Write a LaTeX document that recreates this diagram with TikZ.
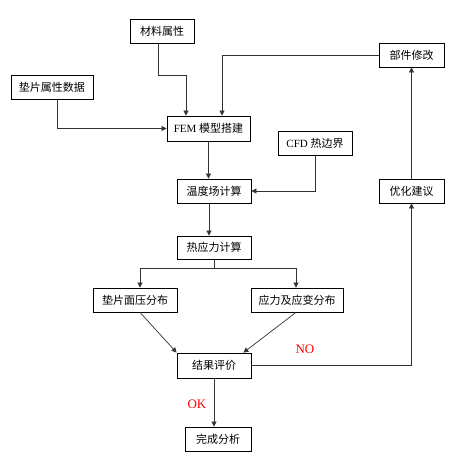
\documentclass[tikz,border=0pt]{standalone}
\usepackage{fontspec}
\setmainfont{Liberation Serif}
\newfontfamily\cjk{Noto Sans CJK SC}
\usepackage{tikz}
\usetikzlibrary{arrows.meta}

\begin{document}
\begin{tikzpicture}[x=1pt,y=-1pt,
  box/.style={draw=black,line width=0.8pt,inner sep=0pt,minimum height=24pt,
    font=\fontsize{11}{13}\selectfont},
  arr/.style={draw=black!80,line width=0.7pt,-{Triangle[length=5pt,width=5pt]}},
  lnk/.style={draw=black!80,line width=0.7pt},
  tag/.style={text=red,font=\fontsize{13}{15}\selectfont}]
\useasboundingbox (0,0) rectangle (451,453);
% boxes
\node[box,minimum width=64pt] (cailiao) at (162,31) {\cjk 材料属性};
\node[box,minimum width=65pt] (bujian) at (411.5,55) {\cjk 部件修改};
\node[box,minimum width=82pt] (dianpian) at (52,87) {\cjk 垫片属性数据};
\node[box,minimum width=83pt,minimum height=25pt] (fem) at (208.5,128.5) {FEM {\cjk 模型搭建}};
\node[box,minimum width=74pt] (cfd) at (315,143) {CFD {\cjk 热边界}};
\node[box,minimum width=74pt] (wendu) at (214,191) {\cjk 温度场计算};
\node[box,minimum width=65pt] (youhua) at (411.5,191) {\cjk 优化建议};
\node[box,minimum width=74pt,minimum height=23pt] (reyingli) at (214,247.5) {\cjk 热应力计算};
\node[box,minimum width=84pt] (mianya) at (135,300) {\cjk 垫片面压分布};
\node[box,minimum width=92pt] (yingbian) at (297,300) {\cjk 应力及应变分布};
\node[box,minimum width=74pt,minimum height=25pt] (jieguo) at (214,365.5) {\cjk 结果评价};
\node[box,minimum width=66pt] (wancheng) at (218,439) {\cjk 完成分析};
% inputs to the model
\draw[arr] ([xshift=-4pt]cailiao.south) |- (186,75) -- ([xshift=-22.5pt]fem.north);
\draw[arr] (bujian.west) -| ([xshift=13.5pt]fem.north);
\draw[arr] ([xshift=5pt]dianpian.south) |- (fem.west);
% main chain
\draw[arr] (fem.south) -- (fem.south |- wendu.north);
\draw[arr] (cfd.south) |- (wendu.east);
\draw[arr] ([xshift=-5pt]wendu.south) -- ([xshift=-5pt]reyingli.north);
\coordinate (fenzhi) at ([yshift=-9pt]reyingli.south);
\draw[lnk] (reyingli.south) -- (fenzhi);
\draw[arr] (fenzhi) -| ([xshift=5pt]mianya.north);
\draw[arr] (fenzhi) -| ([xshift=-1pt]yingbian.north);
\draw[arr] ([xshift=5pt]mianya.south) -- (jieguo.north west);
\draw[arr] ([xshift=-1pt]yingbian.south) -- ([xshift=-8pt]jieguo.north east);
% feedback loop
\draw[arr] (jieguo.east) -| (youhua.south);
\draw[arr] (youhua.north) -- (bujian.south);
\node[tag] (no) at (305,349) {NO};
\draw[arr] (jieguo.south) -- (jieguo.south |- wancheng.north);
\node[tag] (ok) at (197,404) {OK};
\end{tikzpicture}
\end{document}
